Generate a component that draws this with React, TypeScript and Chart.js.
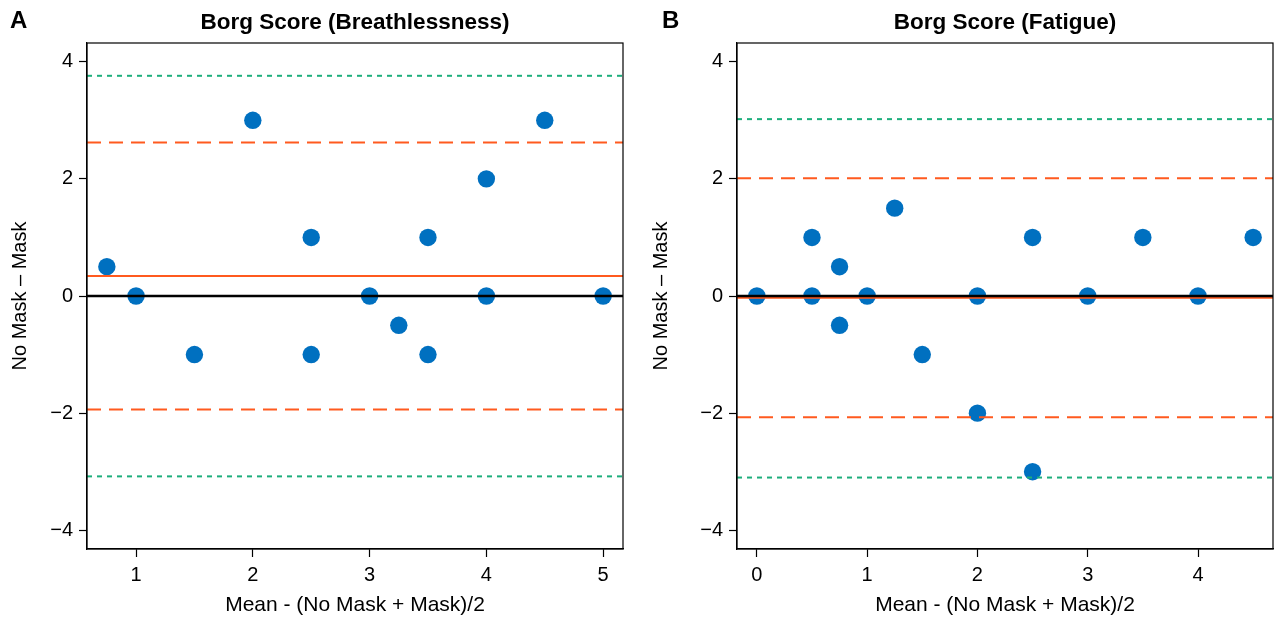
import React, { useEffect, useRef } from "react";
import { Chart, registerables } from "chart.js";
Chart.register(...registerables);

const FONT = "'Liberation Sans', Arial, Helvetica, sans-serif";
const BLUE = "#0070C0";
const ORANGE = "#FF5A1F";
const GREEN = "#1DAE7C";

// Panel A – Breathlessness
const A_X = [0.75, 1, 1.5, 2, 2.5, 2.5, 3, 3.25, 3.5, 3.5, 4, 4, 4.5, 5];
const A_Y = [0.5, 0, -1, 3, 1, -1, 0, -0.5, 1, -1, 2, 0, 3, 0];
const A_MEAN = 0.34;
const A_LOA = [-1.94, 2.62];
const A_OUTER = [-3.08, 3.76];
const A_XTICKS = [1, 2, 3, 4, 5];
const A_XLIM = [0.58, 5.17];

// Panel B – Fatigue
const B_X = [0, 0.5, 0.5, 0.75, 0.75, 1, 1.25, 1.5, 2, 2, 2.5, 2.5, 3, 3.5, 4, 4.5];
const B_Y = [0, 1, 0, 0.5, -0.5, 0, 1.5, -1, 0, -2, 1, -3, 0, 1, 0, 1];
const B_MEAN = -0.03;
const B_LOA = [-2.07, 2.01];
const B_OUTER = [-3.1, 3.02];
const B_XTICKS = [0, 1, 2, 3, 4];
const B_XLIM = [-0.18, 4.68];

const Y_TICKS = [-4, -2, 0, 2, 4];
const Y_LIM = [-4.32, 4.32];

const X_TITLE = "Mean - (No Mask + Mask)/2";
const Y_TITLE = "No Mask \u2013 Mask";

type PanelProps = {
  letter: string;
  title: string;
  xs: number[];
  ys: number[];
  mean: number;
  loa: number[];
  outer: number[];
  xTicks: number[];
  xLim: number[];
  left: number;
  yAxisWidth: number;
  rightPad: number;
  letterX: number;
};

function hline(v: number, xLim: number[], color: string, width: number, dash: number[], order: number) {
  return {
    type: "line" as const,
    data: [
      { x: xLim[0], y: v },
      { x: xLim[1], y: v },
    ],
    borderColor: color,
    borderWidth: width,
    borderDash: dash,
    pointRadius: 0,
    fill: false,
    order,
  };
}

function Panel(p: PanelProps) {
  const ref = useRef<HTMLCanvasElement | null>(null);
  useEffect(() => {
    if (!ref.current) return;
    const decor = {
      id: "decor",
      afterDraw(chart: any) {
        const { ctx, chartArea } = chart;
        ctx.save();
        ctx.strokeStyle = "#000";
        ctx.lineWidth = 1.2;
        ctx.strokeRect(chartArea.left, chartArea.top, chartArea.right - chartArea.left, chartArea.bottom - chartArea.top);
        ctx.fillStyle = "#000";
        ctx.textBaseline = "alphabetic";
        ctx.font = `bold 22.5px ${FONT}`;
        ctx.textAlign = "center";
        ctx.fillText(p.title, (chartArea.left + chartArea.right) / 2, 29);
        ctx.font = `bold 24px ${FONT}`;
        ctx.textAlign = "left";
        ctx.fillText(p.letter, p.letterX, 28);
        ctx.restore();
      },
    };
    const chart = new Chart(ref.current, {
      type: "scatter",
      data: {
        datasets: [
          hline(0, p.xLim, "#000", 2.5, [], 0),
          hline(p.mean, p.xLim, ORANGE, 2, [], 1),
          hline(p.loa[0], p.xLim, ORANGE, 2, [14, 8], 2),
          hline(p.loa[1], p.xLim, ORANGE, 2, [14, 8], 2),
          hline(p.outer[0], p.xLim, GREEN, 2, [5, 5], 3),
          hline(p.outer[1], p.xLim, GREEN, 2, [5, 5], 3),
          {
            type: "scatter" as const,
            data: p.xs.map((x, i) => ({ x, y: p.ys[i] })),
            pointRadius: 8.7,
            pointBackgroundColor: BLUE,
            pointBorderWidth: 0,
            order: 10,
          } as any,
        ],
      },
      options: {
        animation: false,
        responsive: false,
        devicePixelRatio: 1,
        layout: { padding: { left: 0, top: 43, right: p.rightPad, bottom: 0 } },
        plugins: { legend: { display: false }, tooltip: { enabled: false }, title: { display: false } },
        scales: {
          x: {
            type: "linear",
            min: p.xLim[0],
            max: p.xLim[1],
            afterBuildTicks: (s: any) => {
              s.ticks = p.xTicks.map((v) => ({ value: v }));
            },
            afterFit: (s: any) => {
              s.height = 73;
            },
            grid: { drawOnChartArea: false, tickLength: 8, color: "#000", tickWidth: 1.2 },
            border: { display: true, color: "#000", width: 1.2 },
            ticks: {
              color: "#000",
              padding: 6,
              font: { family: FONT, size: 20 },
              callback: (v: any) => String(v),
            },
            title: {
              display: true,
              text: X_TITLE,
              color: "#000",
              font: { family: FONT, size: 21 },
              padding: { top: 0, bottom: 4.4 },
            },
          },
          y: {
            type: "linear",
            min: Y_LIM[0],
            max: Y_LIM[1],
            afterBuildTicks: (s: any) => {
              s.ticks = Y_TICKS.map((v) => ({ value: v }));
            },
            afterFit: (s: any) => {
              s.width = p.yAxisWidth;
            },
            grid: { drawOnChartArea: false, tickLength: 8, color: "#000", tickWidth: 1.2 },
            border: { display: true, color: "#000", width: 1.2 },
            ticks: {
              color: "#000",
              padding: 6,
              font: { family: FONT, size: 20 },
              callback: (v: any) => (Number(v) < 0 ? "\u2212" + Math.abs(Number(v)) : String(v)),
            },
            title: {
              display: true,
              text: Y_TITLE,
              color: "#000",
              font: { family: FONT, size: 20 },
              padding: { top: 8, bottom: 4 },
            },
          },
        },
      },
      plugins: [decor],
    });
    return () => chart.destroy();
  }, []);
  return (
    <canvas
      ref={ref}
      width={641}
      height={622}
      style={{ position: "absolute", left: p.left, top: 0, width: 641, height: 622 }}
    />
  );
}

export default function App() {
  return (
    <div style={{ position: "absolute", left: 0, top: 0, width: 1282, height: 622, background: "#fff" }}>
      <Panel
        letter="A"
        title="Borg Score (Breathlessness)"
        xs={A_X}
        ys={A_Y}
        mean={A_MEAN}
        loa={A_LOA}
        outer={A_OUTER}
        xTicks={A_XTICKS}
        xLim={A_XLIM}
        left={0}
        yAxisWidth={87}
        rightPad={18}
        letterX={10}
      />
      <Panel
        letter="B"
        title="Borg Score (Fatigue)"
        xs={B_X}
        ys={B_Y}
        mean={B_MEAN}
        loa={B_LOA}
        outer={B_OUTER}
        xTicks={B_XTICKS}
        xLim={B_XLIM}
        left={641}
        yAxisWidth={96}
        rightPad={9}
        letterX={21}
      />
    </div>
  );
}
